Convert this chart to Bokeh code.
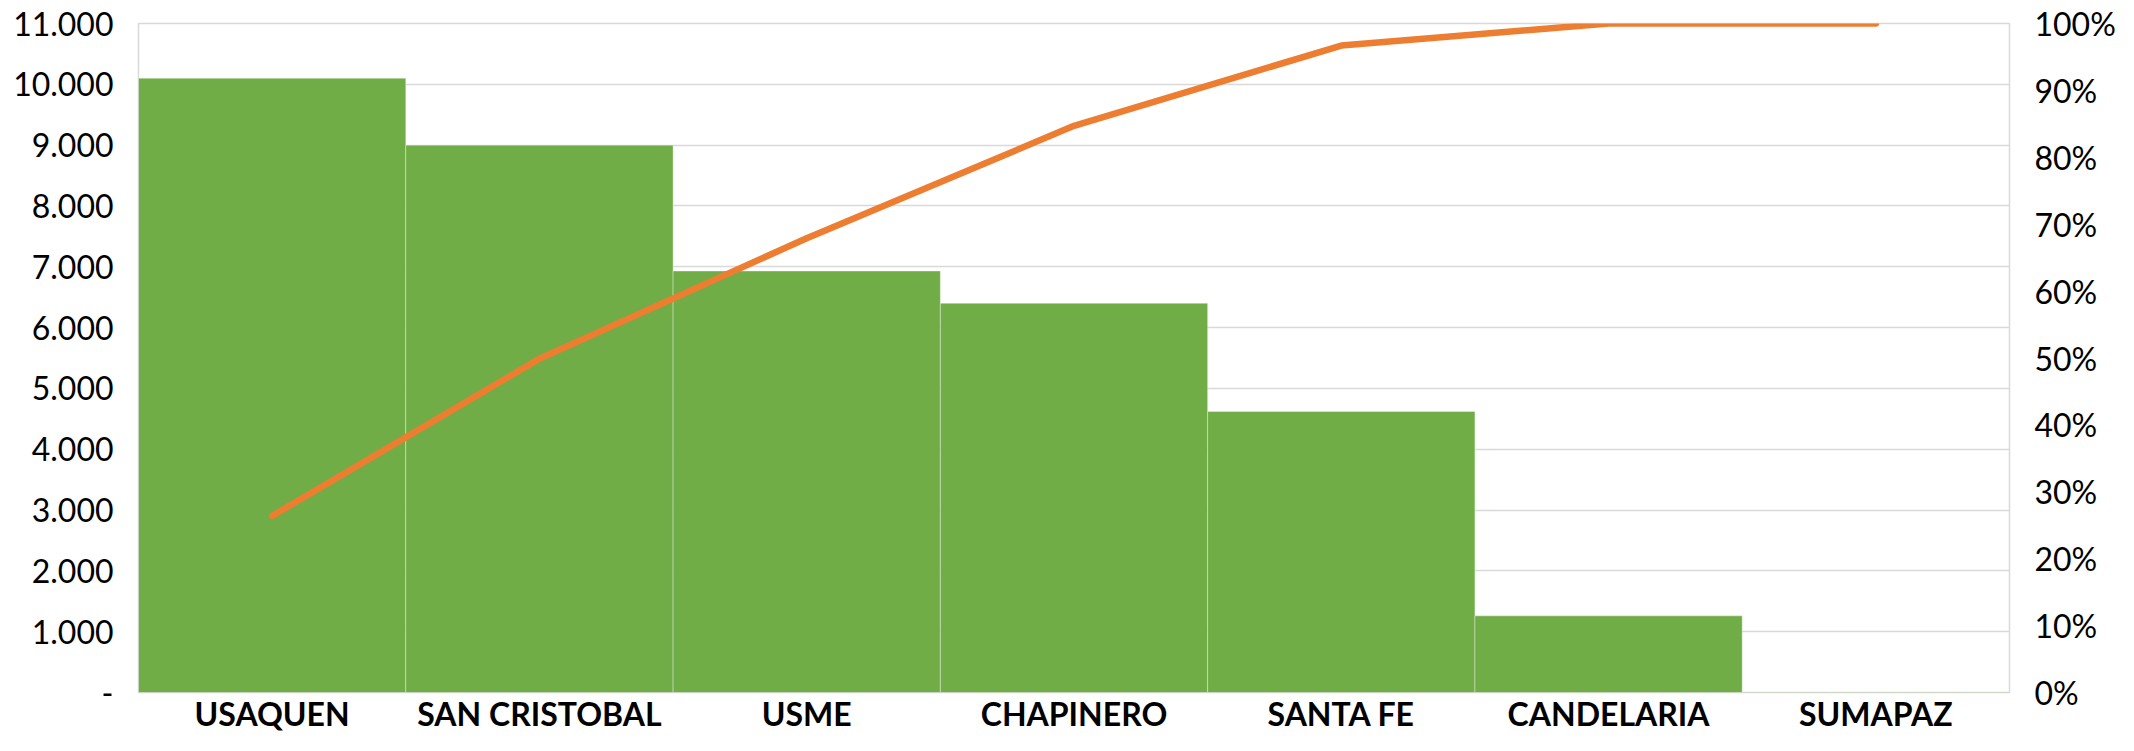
from bokeh.plotting import figure
from bokeh.models import Range1d, LinearAxis, FixedTicker, FactorRange
from bokeh.embed import file_html
from bokeh.resources import INLINE

categories = ["USAQUEN", "SAN CRISTOBAL", "USME", "CHAPINERO", "SANTA FE", "CANDELARIA", "SUMAPAZ"]
values = [10100, 9000, 6930, 6400, 4620, 1260, 10]
cum_pct = [26.4, 49.9, 67.9, 84.7, 96.7, 100.0, 100.0]

left_ticks = [0, 1000, 2000, 3000, 4000, 5000, 6000, 7000, 8000, 9000, 10000, 11000]
left_tick_labels = ["-", "1.000", "2.000", "3.000", "4.000", "5.000", "6.000",
                    "7.000", "8.000", "9.000", "10.000", "11.000"]
right_ticks = [0, 10, 20, 30, 40, 50, 60, 70, 80, 90, 100]
right_tick_labels = ["0%", "10%", "20%", "30%", "40%", "50%", "60%", "70%", "80%", "90%", "100%"]

p = figure(width=2118, height=735, x_range=FactorRange(*categories, range_padding=0),
           y_range=Range1d(0, 11000), output_backend="svg", toolbar_location=None,
           min_border_left=138, min_border_right=104, min_border_top=23, min_border_bottom=40)
p.extra_y_ranges = {"pct": Range1d(0, 100)}

p.vbar(x=categories, top=values, width=1.0, fill_color="#70AD47",
       line_color="white", line_alpha=0.35, line_width=1)
p.line(x=categories, y=cum_pct, y_range_name="pct", line_color="#ED7D31",
       line_width=6.5, line_cap="round", line_join="round")

p.outline_line_color = "#D9D9D9"
p.outline_line_width = 1.5
p.xgrid.grid_line_color = None
p.ygrid.grid_line_color = "#D9D9D9"
p.ygrid.grid_line_width = 1.5
p.ygrid.ticker = FixedTicker(ticks=left_ticks)

ya = p.yaxis[0]
ya.ticker = FixedTicker(ticks=left_ticks)
ya.major_label_overrides = {t: l for t, l in zip(left_ticks, left_tick_labels)}
ya.axis_line_color = None
ya.major_tick_line_color = None
ya.minor_tick_line_color = None
ya.major_label_standoff = 19
ya.major_label_text_font = "Lato"
ya.major_label_text_font_size = "32px"
ya.major_label_text_color = "black"

ra = LinearAxis(y_range_name="pct", ticker=FixedTicker(ticks=right_ticks))
ra.major_label_overrides = {t: l for t, l in zip(right_ticks, right_tick_labels)}
ra.axis_line_color = None
ra.major_tick_line_color = None
ra.minor_tick_line_color = None
ra.major_label_standoff = 19
ra.major_label_text_font = "Lato"
ra.major_label_text_font_size = "32px"
ra.major_label_text_color = "black"
p.add_layout(ra, "right")

xa = p.xaxis[0]
xa.axis_line_color = None
xa.major_tick_line_color = None
xa.minor_tick_line_color = None
xa.major_label_standoff = -5
xa.major_label_text_font = "Lato"
xa.major_label_text_font_style = "bold"
xa.major_label_text_font_size = "32px"
xa.major_label_text_color = "black"

open("out.html", "w").write(file_html(p, INLINE))
